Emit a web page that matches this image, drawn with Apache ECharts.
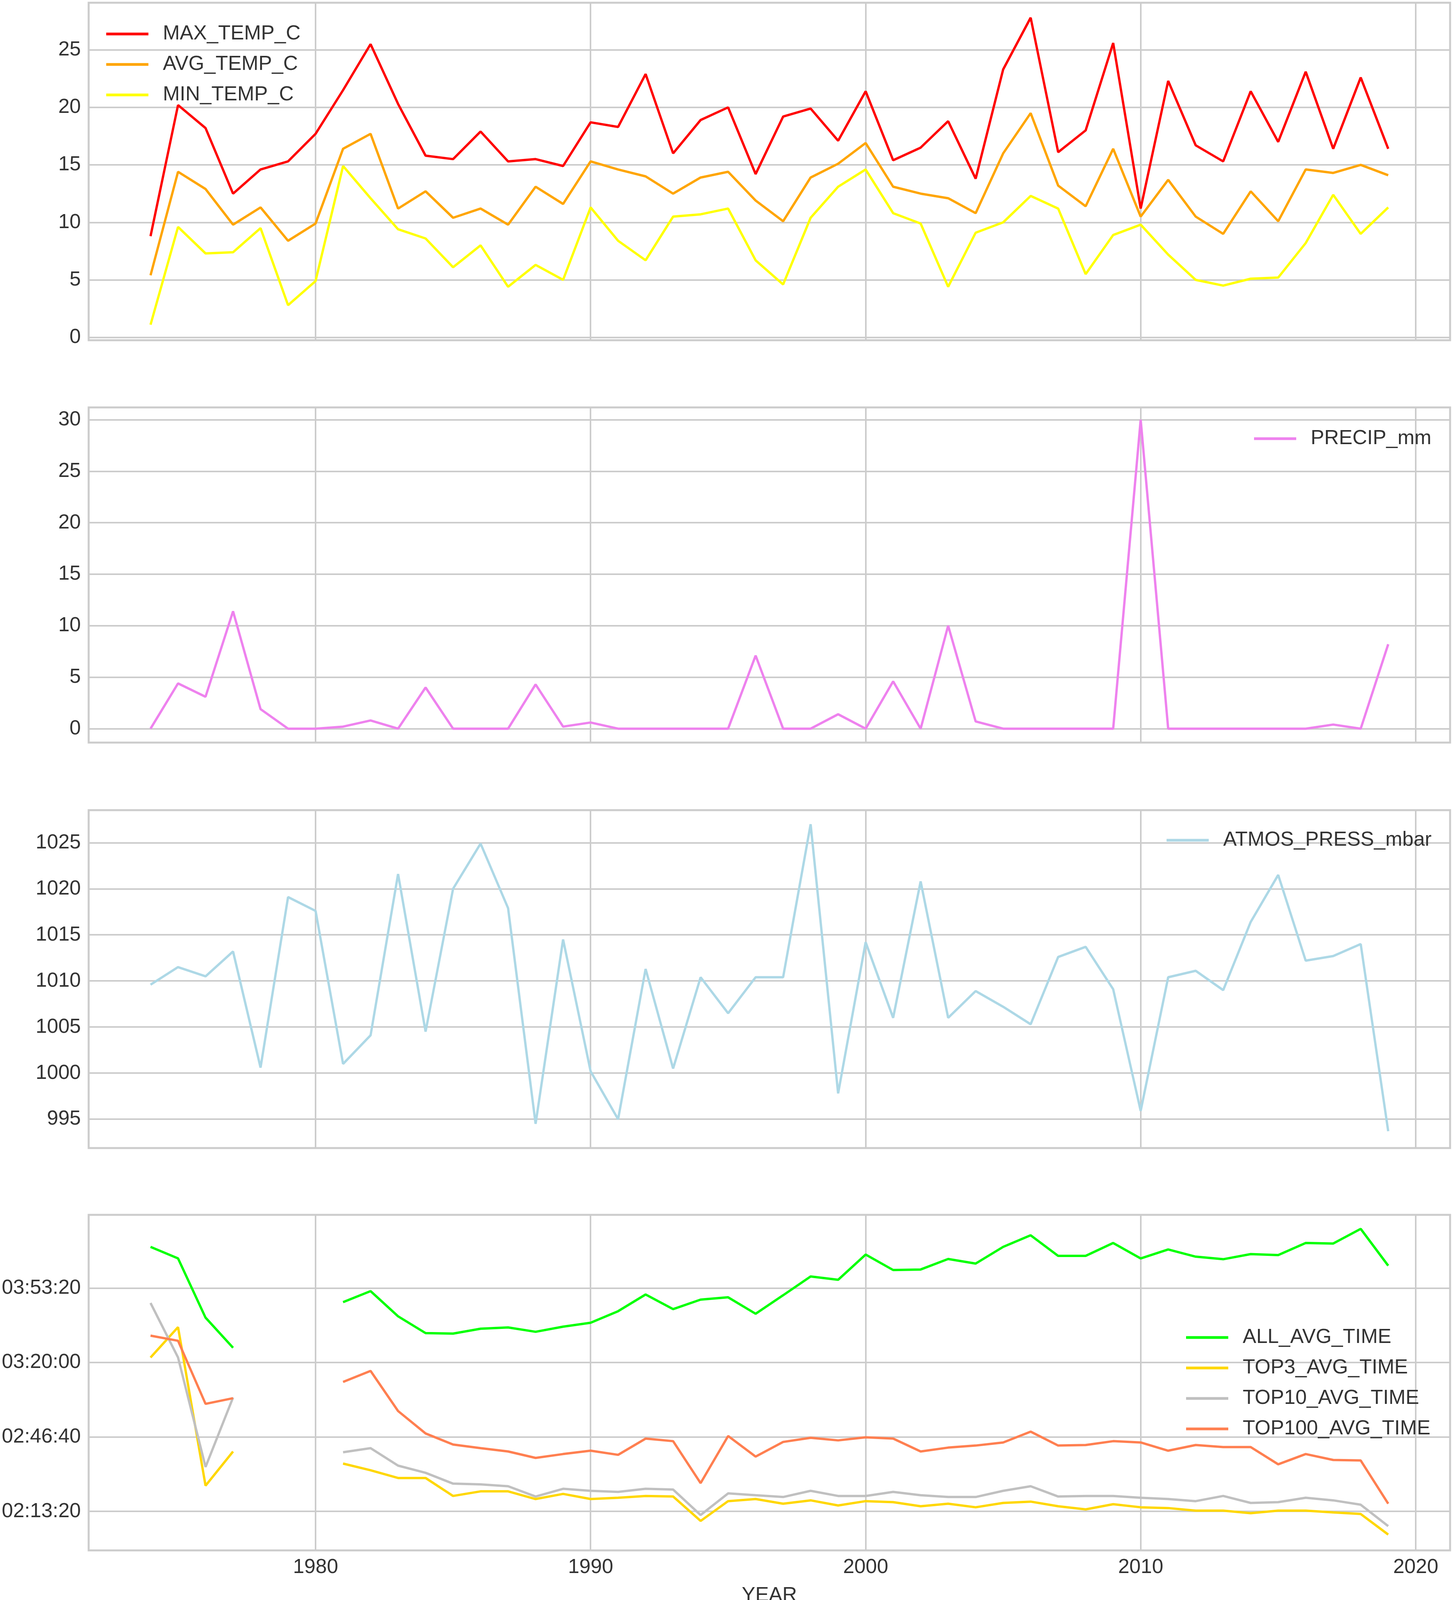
<!DOCTYPE html>
<html><head><meta charset="utf-8">
<script src="https://cdn.jsdelivr.net/npm/echarts@6/dist/echarts.min.js"></script>
<style>html,body{margin:0;padding:0;background:#fff}#c{width:3723px;height:4113px}</style>
</head><body><div id="c"></div>
<script>
const years = [1974,1975,1976,1977,1978,1979,1980,1981,1982,1983,1984,1985,1986,1987,1988,1989,1990,1991,1992,1993,1994,1995,1996,1997,1998,1999,2000,2001,2002,2003,2004,2005,2006,2007,2008,2009,2010,2011,2012,2013,2014,2015,2016,2017,2018,2019];
const maxTemp = [8.8,20.2,18.2,12.5,14.6,15.3,17.7,21.5,25.5,20.3,15.8,15.5,17.9,15.3,15.5,14.9,18.7,18.3,22.9,16.0,18.9,20.0,14.2,19.2,19.9,17.1,21.4,15.4,16.5,18.8,13.8,23.3,27.8,16.1,18.0,25.6,11.2,22.3,16.7,15.3,21.4,17.0,23.1,16.4,22.6,16.4];
const avgTemp = [5.4,14.4,12.9,9.8,11.3,8.4,9.9,16.4,17.7,11.2,12.7,10.4,11.2,9.8,13.1,11.6,15.3,14.6,14.0,12.5,13.9,14.4,11.9,10.1,13.9,15.1,16.9,13.1,12.5,12.1,10.8,16.0,19.5,13.2,11.4,16.4,10.5,13.7,10.5,9.0,12.7,10.1,14.6,14.3,15.0,14.1];
const minTemp = [1.1,9.6,7.3,7.4,9.5,2.8,4.9,14.9,12.1,9.4,8.6,6.1,8.0,4.4,6.3,5.0,11.3,8.4,6.7,10.5,10.7,11.2,6.7,4.6,10.4,13.1,14.6,10.8,9.9,4.4,9.1,10.0,12.3,11.2,5.5,8.9,9.8,7.2,5.0,4.5,5.1,5.2,8.2,12.4,9.0,11.3];
const precip = [0,4.4,3.1,11.4,1.9,0,0,0.2,0.8,0,4.0,0,0,0,4.3,0.2,0.6,0,0,0,0,0,7.1,0,0,1.4,0,4.6,0,10.0,0.7,0,0,0,0,0,30.0,0,0,0,0,0,0,0.4,0,8.2];
const press = [1009.6,1011.5,1010.5,1013.2,1000.6,1019.1,1017.6,1001.0,1004.1,1021.6,1004.5,1020.0,1024.9,1017.9,994.5,1014.5,1000.2,995.0,1011.3,1000.5,1010.4,1006.5,1010.4,1010.4,1027.0,997.8,1014.2,1006.0,1020.8,1006.0,1008.9,1007.2,1005.3,1012.6,1013.7,1009.1,995.9,1010.4,1011.1,1009.0,1016.4,1021.5,1012.2,1012.7,1014.0,993.7];
// times in seconds
const allAvg = [15106,14795,13205,12396,null,null,null,13620,13917,13240,12790,12776,12908,12942,12825,12963,13067,13378,13827,13433,13689,13751,13309,13806,14311,14221,14899,14484,14498,14781,14657,15106,15417,14864,14864,15210,14795,15037,14843,14774,14912,14885,15210,15196,15590,14601];
const top3 = [12134,12949,8691,9610,null,null,null,9285,9105,8898,8898,8415,8539,8539,8332,8470,8332,8366,8415,8400,7744,8276,8332,8207,8297,8159,8276,8249,8138,8207,8111,8228,8263,8138,8055,8193,8111,8090,8021,8021,7952,8021,8021,7973,7931,7378];
const top10 = [13599,12134,9195,11060,null,null,null,9590,9700,9230,9037,8746,8725,8677,8400,8608,8553,8525,8608,8587,7903,8484,8435,8387,8553,8415,8415,8525,8435,8387,8387,8553,8677,8400,8415,8415,8366,8332,8276,8415,8228,8249,8366,8297,8180,7605];
const top100 = [12721,12583,10889,11041,null,null,null,11477,11774,10696,10094,9797,9700,9610,9437,9541,9631,9520,9956,9887,8760,10025,9472,9866,9977,9908,9991,9956,9610,9714,9769,9852,10143,9769,9783,9887,9852,9631,9783,9728,9728,9265,9541,9382,9368,8207];
const xTicks = [1980,1990,2000,2010,2020];

const FONT = "'Liberation Sans',Arial,sans-serif";
const TXT = '#333333';
const GRIDC = '#cccccc';
const FS = 52;
const LFS = 52;

function pairs(arr){ return years.map((y,i)=>[y, arr[i]]); }
function onStep(v, step){ return Math.abs(v/step - Math.round(v/step)) < 1e-6; }
function hms(s){
  const h=Math.floor(s/3600), m=Math.floor((s%3600)/60), sec=Math.round(s%60);
  const p=n=>String(n).padStart(2,'0');
  return p(h)+':'+p(m)+':'+p(sec);
}

const grids = [
  {left:227,right:10,top:7,height:864},
  {left:227,right:10,top:1043,height:858},
  {left:227,right:10,top:2074,height:865},
  {left:227,right:10,top:3110,height:859}
].map(g=>Object.assign(g,{show:true,borderColor:GRIDC,borderWidth:5,backgroundColor:'#fff',
  containLabel:false, outerBoundsMode:'none'}));

function xAx(gi, showLabels){
  return {
    type:'value', gridIndex:gi, min:1971.75, max:2021.25, minInterval:10, maxInterval:10, splitNumber:5,
    axisLine:{show:false}, axisTick:{show:false},
    splitLine:{show:true, lineStyle:{color:GRIDC,width:4}},
    axisLabel:{show:showLabels, fontSize:FS, color:TXT, fontFamily:FONT, margin:18,
      showMinLabel:false, showMaxLabel:false,
      formatter:v=> (xTicks.indexOf(Math.round(v))>=0 && onStep(v,10)) ? String(Math.round(v)) : ''},
    name: showLabels ? 'YEAR' : '', nameLocation:'middle', nameGap:90,
    nameTextStyle:{fontSize:FS, color:TXT, fontFamily:FONT}
  };
}
function yAx(gi, min, max, step, fmt){
  return {
    type:'value', gridIndex:gi, min:min, max:max, minInterval:step, maxInterval:step, splitNumber:6,
    axisLine:{show:false}, axisTick:{show:false},
    splitLine:{show:true, lineStyle:{color:GRIDC,width:4}},
    axisLabel:{fontSize:FS, color:TXT, fontFamily:FONT, margin:20,
      showMinLabel:false, showMaxLabel:false,
      formatter:v=> onStep(v,step) ? fmt(v) : ''}
  };
}
function line(name, arr, color, gi){
  return {type:'line', name:name, data:pairs(arr), xAxisIndex:gi, yAxisIndex:gi,
    showSymbol:false, symbol:'none', connectNulls:false, animation:false,
    lineStyle:{color:color,width:6}, itemStyle:{color:color}};
}
function legend(names, left, top){
  return {data:names, orient:'vertical', left:left, top:top, icon:'rect', itemWidth:108, itemHeight:7,
    itemGap:20, selectedMode:false,
    textStyle:{fontSize:LFS, color:TXT, fontFamily:FONT, lineHeight:58, padding:[0,0,0,32]}};
}

const option = {
  backgroundColor:'#ffffff',
  animation:false,
  grid: grids,
  xAxis: [xAx(0,false), xAx(1,false), xAx(2,false), xAx(3,true)],
  yAxis: [
    yAx(0, -0.25, 29.1, 5, v=>String(Math.round(v))),
    yAx(1, -1.35, 31.2, 5, v=>String(Math.round(v))),
    yAx(2, 991.87, 1028.53, 5, v=>String(Math.round(v))),
    yAx(3, 6953, 15966, 2000, v=>hms(v))
  ],
  legend: [
    legend(['MAX_TEMP_C','AVG_TEMP_C','MIN_TEMP_C'], 267, 53),
    legend(['PRECIP_mm'], 3206, 1089),
    legend(['ATMOS_PRESS_mbar'], 2982, 2117),
    legend(['ALL_AVG_TIME','TOP3_AVG_TIME','TOP10_AVG_TIME','TOP100_AVG_TIME'], 3032, 3390)
  ],
  series: [
    line('MAX_TEMP_C', maxTemp, '#ff0000', 0),
    line('AVG_TEMP_C', avgTemp, '#ffa500', 0),
    line('MIN_TEMP_C', minTemp, '#ffff00', 0),
    line('PRECIP_mm', precip, '#ee82ee', 1),
    line('ATMOS_PRESS_mbar', press, '#add8e6', 2),
    line('ALL_AVG_TIME', allAvg, '#00ff00', 3),
    line('TOP3_AVG_TIME', top3, '#ffd700', 3),
    line('TOP10_AVG_TIME', top10, '#c0c0c0', 3),
    line('TOP100_AVG_TIME', top100, '#ff7f50', 3)
  ]
};
const chart = echarts.init(document.getElementById('c'), null, {renderer:'canvas', width:3723, height:4113});
chart.setOption(option);
</script></body></html>
